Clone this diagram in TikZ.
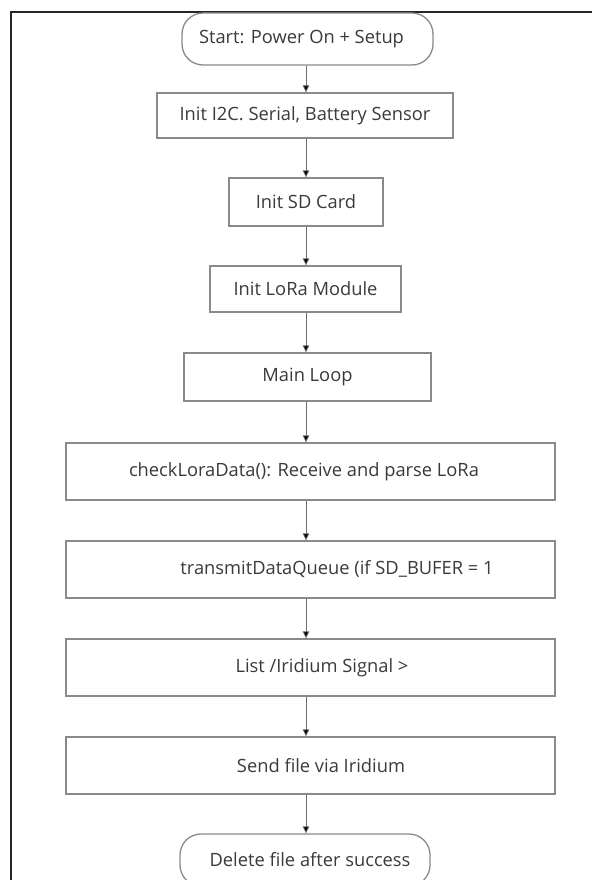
\documentclass[tikz,border=0pt]{standalone}
\usepackage{fontspec}
\setmainfont{Open Sans}
\usetikzlibrary{arrows.meta}
\definecolor{boxline}{HTML}{8A8A8A}
\definecolor{txtcol}{HTML}{3A3A3A}
\definecolor{frame}{HTML}{262626}
\tikzset{
  x=1pt, y=-1pt,
  box/.style={draw=boxline, line width=1.3pt, fill=white, inner sep=0pt,
    text=txtcol, font=\fontsize{18.3}{22}\selectfont},
  term/.style={box, rounded corners=21pt},
  arr/.style={draw=boxline!80!black, line width=0.8pt,
    -{Triangle[length=7pt,width=6.5pt,fill=black]}},
}
\begin{document}
\begin{tikzpicture}
\useasboundingbox (0,0) rectangle (592,880);
\clip (0,0) rectangle (592,880);
\fill[white] (0,0) rectangle (592,880);
% outer frame (top and left)
\draw[frame, line width=2pt] (11,880) -- (11,12.5) -- (592,12.5);

\node[term, minimum width=251pt, minimum height=52pt] (start) at (307.5,39) {Start: Power On + Setup\hspace*{12pt}};
\node[box, minimum width=296pt, minimum height=45pt] (i2c) at (305,115.5) {Init I2C. Serial, Battery Sensor};
\node[box, minimum width=154pt, minimum height=48pt] (sd) at (306,202) {Init SD Card};
\node[box, minimum width=191pt, minimum height=46pt] (lora) at (305.5,289) {Init LoRa Module};
\node[box, minimum width=247pt, minimum height=48pt] (main) at (307.5,377) {Main Loop};
\node[box, minimum width=489pt, minimum height=57pt] (check) at (310.5,471.5) {checkLoraData(): Receive and parse LoRa\hspace*{13pt}};
\node[box, minimum width=489pt, minimum height=57pt] (tx) at (310.5,569.5) {\hspace*{53pt}transmitDataQueue (if SD\_BUFER = 1};
\node[box, minimum width=489pt, minimum height=57pt] (list) at (310.5,667.5) {\hspace*{23pt}List /Iridium Signal >};
\node[box, minimum width=489pt, minimum height=57pt] (send) at (310.5,765.5) {\hspace*{21pt}Send file via Iridium};
\node[term, minimum width=250pt, minimum height=52pt] (del) at (305,860) {\hspace*{10pt}Delete file after success};

\draw[arr] (start.south -| 306,0) -- (i2c.north -| 306,0);
\draw[arr] (i2c.south -| 306,0) -- (sd.north -| 306,0);
\draw[arr] (sd.south -| 306,0) -- (lora.north -| 306,0);
\draw[arr] (lora.south -| 306,0) -- (main.north -| 306,0);
\draw[arr] (main.south -| 306,0) -- (check.north -| 306,0);
\draw[arr] (check.south -| 306,0) -- (tx.north -| 306,0);
\draw[arr] (tx.south -| 306,0) -- (list.north -| 306,0);
\draw[arr] (list.south -| 306,0) -- (send.north -| 306,0);
\draw[arr] (send.south -| 306,0) -- (del.north -| 306,0);
\end{tikzpicture}
\end{document}
